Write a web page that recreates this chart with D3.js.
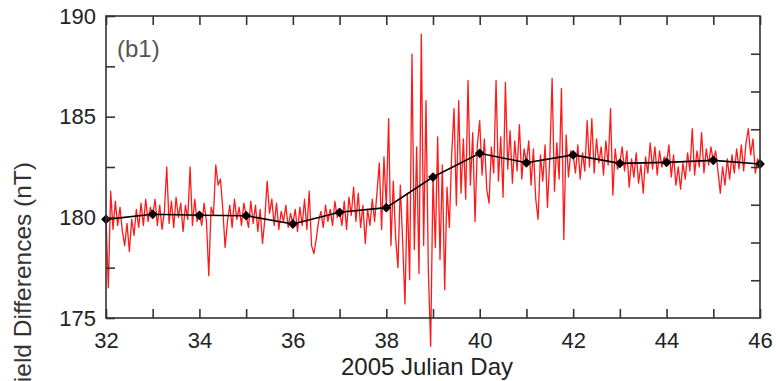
<!DOCTYPE html>
<html lang="en">

<head>
    <meta charset="UTF-8">
    <title>Field differences, 2005 Julian Day</title>
    <script src="https://d3js.org/d3.v7.min.js"></script>
    <style>
        body { margin: 0; background: #fff; }
        svg text { font-family: "Liberation Sans", Arial, sans-serif; }
    </style>
</head>

<body>
    <svg width="776" height="381"></svg>
    <script>
        // daily means (black diamonds)
        const days = [32, 33, 34, 35, 36, 37, 38, 39, 40, 41, 42, 43, 44, 45, 46];
        const dailyMean = [179.9, 180.15, 180.1, 180.08, 179.67, 180.25, 180.48, 182.0,
            183.18, 182.71, 183.1, 182.68, 182.73, 182.83, 182.65];

        // high rate differences (red), one value every 0.05 day from day 32
        const redStart = 32;
        const redStep = 0.05;
        const redValues = [
            // 32
            180.0, 176.5, 181.3, 179.4, 180.8, 179.6, 180.5, 179.3, 178.6, 179.7,
            178.3, 179.9, 179.1, 180.4, 179.5, 180.7, 179.6, 180.9, 179.8, 180.5,
            // 33
            180.1, 180.9, 179.6, 180.6, 179.4, 180.3, 182.5, 179.7, 180.8, 179.5,
            181.0, 180.0, 180.7, 179.3, 180.6, 179.9, 182.5, 179.6, 180.9, 179.8,
            // 34
            180.2, 179.6, 180.7, 179.8, 177.1, 180.5, 180.1, 182.6, 181.6, 181.9,
            180.4, 178.5, 179.8, 180.6, 179.5, 180.9, 179.9, 180.5, 179.6, 180.7,
            // 35
            180.1, 179.5, 180.8, 179.7, 180.6, 179.3, 180.4, 178.7, 179.9, 181.8,
            180.2, 180.9, 179.6, 180.7, 179.4, 180.3, 179.8, 180.6, 179.5, 180.2,
            // 36
            179.7, 180.4, 179.3, 180.5, 179.6, 180.9, 179.4, 181.3, 178.6, 178.2,
            178.9, 179.8, 180.3, 179.5, 180.6, 179.8, 180.4, 179.6, 180.8, 180.0,
            // 37
            180.3, 179.6, 180.8, 179.4, 181.0, 180.1, 181.5, 179.8, 181.2, 179.5,
            180.6, 178.7, 180.4, 179.6, 180.9, 179.8, 181.2, 182.7, 179.4, 183.0,
            // 38
            180.5, 184.9, 178.6, 181.8, 179.0, 177.5, 181.6, 178.8, 175.7, 181.2,
            176.9, 188.1, 178.4, 183.5, 177.2, 189.1, 178.6, 185.8, 177.4, 173.6,
            // 39
            182.0, 178.5, 184.0, 177.9, 182.6, 176.4, 181.5, 179.5, 183.1, 185.4,
            180.6, 185.8, 181.2, 183.9, 180.9, 186.8, 181.6, 184.2, 179.8, 183.6,
            // 40
            184.8, 182.1, 183.9, 181.4, 180.7, 183.5, 182.2, 186.8, 181.8, 184.0,
            181.0, 186.7, 182.4, 184.3, 181.7, 183.8, 182.3, 184.6, 181.9, 183.4,
            // 41
            182.7, 183.8, 181.6, 183.4, 180.9, 179.9, 183.1, 181.8, 183.6, 180.5,
            182.9, 186.9, 181.3, 183.7, 181.9, 186.4, 178.9, 184.1, 182.0, 183.3,
            // 42
            183.1, 182.2, 183.6, 181.9, 183.2, 182.3, 184.8, 182.5, 184.9, 182.2,
            183.9, 182.7, 183.5, 182.1, 183.8, 182.6, 185.4, 181.1, 183.4, 182.4,
            // 43
            182.7, 183.5, 182.3, 183.3, 181.5, 182.9, 182.0, 183.2, 181.7, 182.6,
            181.2, 183.0, 182.2, 183.7, 182.4, 183.5, 182.1, 183.3, 182.5, 183.0,
            // 44
            182.7, 183.6, 182.0, 183.1, 181.6, 182.5, 181.4, 182.7, 181.9, 183.2,
            182.3, 184.4, 182.1, 183.3, 182.5, 184.2, 182.2, 183.4, 182.6, 183.5,
            // 45
            182.8, 183.3, 182.3, 181.2, 182.5, 181.6, 182.9, 181.9, 183.1, 182.2,
            183.4, 182.4, 183.6, 182.3, 183.7, 184.4, 183.1, 183.9, 182.2, 182.9,
            // 46
            182.6
        ];

        const xTicks = [32, 33, 34, 35, 36, 37, 38, 39, 40, 41, 42, 43, 44, 45, 46];
        const yTicks = [175, 177.5, 180, 182.5, 185, 187.5, 190];
        const rightTicks = [1, 2, 3, 4, 5, 6, 7];

        const plotLeft = 106, plotRight = 760, plotTop = 16, plotBottom = 318;

        const xScale = d3.scaleLinear().domain([32, 46]).range([plotLeft, plotRight]);
        const yScale = d3.scaleLinear().domain([175, 190]).range([plotBottom, plotTop]);
        const rScale = d3.scaleLinear().domain([0, 8]).range([plotBottom, plotTop]);

        const svg = d3.select('svg');
        const axisColor = '#333';

        // red series
        const redLine = d3.line()
            .x((d, i) => xScale(redStart + i * redStep))
            .y(d => yScale(d));

        svg.append('path')
            .datum(redValues)
            .attr('fill', 'none')
            .attr('stroke', '#ff0000')
            .attr('stroke-width', 1.3)
            .attr('stroke-opacity', 0.9)
            .attr('stroke-linejoin', 'round')
            .attr('d', redLine);

        // daily means
        const meanLine = d3.line()
            .x((d, i) => xScale(days[i]))
            .y(d => yScale(d));

        svg.append('path')
            .datum(dailyMean)
            .attr('fill', 'none')
            .attr('stroke', '#000')
            .attr('stroke-width', 1.6)
            .attr('d', meanLine);

        svg.selectAll('.mark')
            .data(dailyMean)
            .enter()
            .append('path')
            .attr('class', 'mark')
            .attr('d', d3.symbol(d3.symbolSquare, 48))
            .attr('transform', (d, i) => `translate(${xScale(days[i])},${yScale(d)}) rotate(45)`)
            .attr('fill', '#000');

        // frame
        svg.append('rect')
            .attr('x', plotLeft).attr('y', plotTop)
            .attr('width', plotRight - plotLeft).attr('height', plotBottom - plotTop)
            .attr('fill', 'none')
            .attr('stroke', axisColor)
            .attr('stroke-width', 1.6);

        function styleAxis(g) {
            g.select('.domain').remove();
            g.selectAll('.tick line').attr('stroke', axisColor).attr('stroke-width', 1.6);
            g.selectAll('.tick text')
                .attr('fill', '#222')
                .style('font-size', '22px');
        }

        svg.append('g')
            .attr('transform', `translate(0,${plotBottom})`)
            .call(d3.axisBottom(xScale).tickValues(xTicks).tickSize(-9).tickPadding(14)
                .tickFormat(d => d % 2 === 0 ? d : ''))
            .call(styleAxis);

        svg.append('g')
            .attr('transform', `translate(0,${plotTop})`)
            .call(d3.axisTop(xScale).tickValues(xTicks).tickSize(-9).tickFormat(''))
            .call(styleAxis);

        svg.append('g')
            .attr('transform', `translate(${plotLeft},0)`)
            .call(d3.axisLeft(yScale).tickValues(yTicks).tickSize(-9).tickPadding(10)
                .tickFormat(d => d % 5 === 0 ? d : ''))
            .call(styleAxis);

        svg.append('g')
            .attr('transform', `translate(${plotRight},0)`)
            .call(d3.axisRight(rScale).tickValues(rightTicks).tickSize(-9).tickFormat(''))
            .call(styleAxis);

        // labels
        svg.append('text')
            .attr('x', 427)
            .attr('y', 375)
            .attr('text-anchor', 'middle')
            .attr('fill', '#222')
            .style('font-size', '24px')
            .text('2005 Julian Day');

        svg.append('text')
            .attr('transform', 'translate(31,162) rotate(-90)')
            .attr('text-anchor', 'end')
            .attr('fill', '#333')
            .style('font-size', '24.5px')
            .text('Field Differences (nT)');

        svg.append('text')
            .attr('x', 117)
            .attr('y', 57)
            .attr('fill', '#555')
            .style('font-size', '24px')
            .text('(b1)');
    </script>
</body>

</html>
